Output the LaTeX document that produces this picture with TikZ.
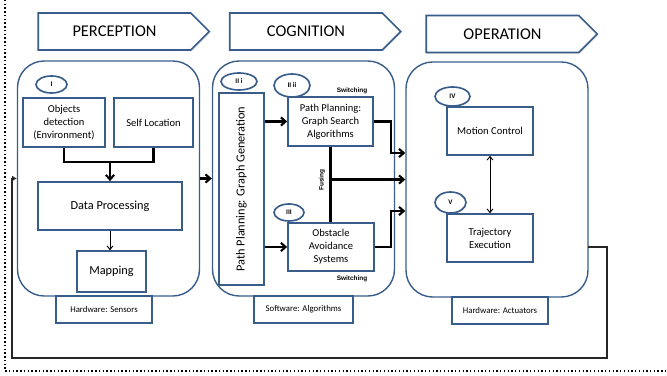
\documentclass[tikz,border=0pt]{standalone}
\usepackage{fontspec}
\setmainfont{Carlito}
\newfontfamily\tagfont{Liberation Sans}
\usetikzlibrary{shapes.geometric,shapes.symbols,arrows.meta,shadows}
\definecolor{boxblue}{RGB}{56,93,138}

\begin{document}
\begin{tikzpicture}[x=0.03cm, y=-0.03cm,
        group/.style={draw=boxblue, line width=1.2pt, rounded corners=0.8cm,
            minimum width=5.46cm, minimum height=7.05cm},
        banner/.style={shape=signal, signal to=east, draw=boxblue, line width=1.4pt,
            fill=white, minimum width=5.13cm, minimum height=1.11cm,
            font=\fontsize{14}{16}\selectfont,
            drop shadow={opacity=0.25, shadow xshift=1pt, shadow yshift=-1pt}},
        block/.style={draw=boxblue, line width=1.4pt, fill=white, align=center,
            inner sep=1pt, font=\fontsize{9}{11}\selectfont,
            drop shadow={opacity=0.25, shadow xshift=1pt, shadow yshift=-1pt}},
        hw/.style={draw=boxblue, line width=1.2pt, fill=white, minimum height=0.81cm,
            font=\fontsize{7.5}{9}\selectfont},
        num/.style={ellipse, draw=boxblue, line width=1.4pt, fill=white, inner sep=0pt,
            font=\bfseries\fontsize{6}{7}\selectfont},
        note/.style={font=\tagfont\bfseries\fontsize{5.5}{6}\selectfont, inner sep=0pt},
        link/.style={line width=1.8pt, -{Straight Barb[length=4pt, width=7pt]}}]
    \useasboundingbox (0,0) rectangle (667,376);
    \draw[dotted, line width=1.2pt] (5,0) -- (5,371) -- (667,371);

    % the three stages
    \node[group] (perc) at (108.5,178.5) {};
    \node[group] (cog) at (303.5,178.5) {};
    \node[group] (op) at (497,179.5) {};
    \node[banner] (percb) at (114.5,31.5) {PERCEPTION};
    \node[banner] (cogb) at (306,31.5) {COGNITION};
    \node[banner] (opb) at (502.5,34) {OPERATION};
    \node[hw, minimum width=2.88cm] (hwsens) at (104,309.5) {Hardware: Sensors};
    \node[hw, minimum width=2.97cm] (swalg) at (303.5,309.5) {Software: Algorithms};
    \node[hw, minimum width=2.88cm] (hwact) at (500,310.5) {Hardware: Actuators};

    % perception
    \node[num, minimum width=0.93cm, minimum height=0.51cm] (nI) at (51.5,84.5) {I};
    \node[block, minimum width=2.46cm, minimum height=1.47cm] (objdet) at (64,122.5)
        {Objects\\detection\\(Environment)};
    \node[block, minimum width=2.37cm, minimum height=1.47cm] (selfloc) at (153.5,122.5)
        {Self Location};
    \node[block, minimum width=4.32cm, minimum height=1.44cm, font=\fontsize{10.5}{12}\selectfont]
        (dataproc) at (110,206) {Data Processing};
    \node[block, minimum width=2.07cm, minimum height=1.23cm, font=\fontsize{10.5}{12}\selectfont]
        (mapping) at (111.5,271.5) {Mapping};
    \coordinate (join) at (110,162);
    \draw[line width=1.8pt] (objdet.south) |- (join) -| (selfloc.south);
    \draw[link] (join) -- (dataproc.north);
    \draw[-{Straight Barb[length=3pt, width=5pt]}, thick] (dataproc.south) -- (dataproc.south |- mapping.north);

    % cognition
    \node[num, minimum width=1.08cm, minimum height=0.51cm] (nIIi) at (239,81.5) {II i};
    \node[num, minimum width=1.08cm, minimum height=0.69cm] (nIIii) at (292,85.5) {II ii};
    \node[block, minimum width=1.35cm, minimum height=5.76cm, font=\fontsize{10.5}{12}\selectfont]
        (graphgen) at (241.5,189) {\rotatebox{90}{Path Planning: Graph Generation}};
    \node[block, minimum width=2.55cm, minimum height=1.47cm] (search) at (330.5,121.5)
        {Path Planning:\\Graph Search\\Algorithms};
    \node[block, minimum width=2.58cm, minimum height=1.44cm] (obstacle) at (331,247)
        {Obstacle\\Avoidance\\Systems};
    \node[num, minimum width=0.9cm, minimum height=0.51cm] (nIII) at (289,212.5) {III};
    \node[note] (sw1) at (352,91) {Switching};
    \node[note] (sw2) at (352,279) {Switching};
    \node[note, rotate=90] (fusing) at (322,180) {Fusing};
    \draw[link] (graphgen.east |- search.west) -- (search.west);
    \draw[link] (graphgen.east |- obstacle.west) -- (obstacle.west);
    \draw[line width=1.8pt] (search.south) -- (search.south |- obstacle.north);
    \coordinate (bend1) at (391,153);
    \coordinate (bend2) at (391,211);
    \draw[link] (search.east) -| (bend1) -- (bend1 -| op.west);
    \draw[link] (search.south |- op.west) -- (op.west);
    \draw[link] (obstacle.east) -| (bend2) -- (bend2 -| op.west);
    \draw[link] (perc.east) -- (cog.west);

    % operation
    \node[num, minimum width=1.05cm, minimum height=0.57cm] (nIV) at (452.5,96.5) {IV};
    \node[block, minimum width=2.58cm, minimum height=1.44cm] (motion) at (490,131)
        {Motion Control};
    \node[num, minimum width=0.93cm, minimum height=0.63cm] (nV) at (450.5,202.5) {V};
    \node[block, minimum width=2.58cm, minimum height=1.44cm] (traj) at (490,238)
        {Trajectory\\Execution};
    \draw[{Straight Barb[length=3pt, width=5pt]}-{Straight Barb[length=3pt, width=5pt]}, thick]
        (motion.south) -- (traj.north);

    % feedback loop
    \coordinate (fbin) at (588,247);
    \coordinate (fbr) at (607,358);
    \coordinate (fbl) at (12,358);
    \draw[line width=1.2pt, black!85, -{Latex[length=4pt, width=5pt]}]
        (fbin) -| (fbr) -- (fbl) |- (perc.west);
\end{tikzpicture}
\end{document}
